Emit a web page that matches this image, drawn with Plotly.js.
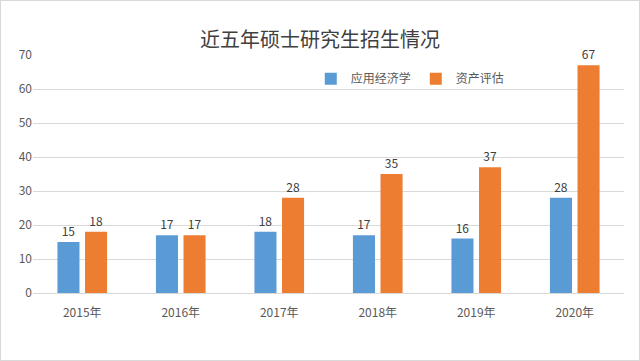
<!DOCTYPE html>
<html><head><meta charset="utf-8">
<script src="https://cdn.plot.ly/plotly-3.0.1.min.js"></script>
<style>html,body{margin:0;padding:0;background:#fff;}#chart{width:640px;height:361px;box-sizing:border-box;border:1px solid #d9d9d9;}</style>
</head><body><div id="chart"></div>
<script>
const years = ["2015年","2016年","2017年","2018年","2019年","2020年"];
const appliedEcon = [15,17,18,17,16,28];
const assetEval = [18,17,28,35,37,67];
const seriesNames = ["应用经济学","资产评估"];
const yTicks = [0,10,20,30,40,50,60,70];

const font = "'Microsoft YaHei','Noto Sans CJK SC',sans-serif";
const traces = [
  {type:"bar", x:years, y:appliedEcon, name:seriesNames[0], marker:{color:"#5b9bd5"},
   text:appliedEcon.map(String), textposition:"outside", textfont:{color:"#404040",size:12}, cliponaxis:false},
  {type:"bar", x:years, y:assetEval, name:seriesNames[1], marker:{color:"#ed7d31"},
   text:assetEval.map(String), textposition:"outside", textfont:{color:"#404040",size:12}, cliponaxis:false}
];
const layout = {
  width:638, height:359,
  margin:{l:32, r:15, t:54, b:67},
  paper_bgcolor:"#fff", plot_bgcolor:"#fff",
  font:{family:font, color:"#595959", size:12},
  title:{text:"近五年硕士研究生招生情况", font:{size:20, color:"#404040", family:font}, x:0.5, xanchor:"center", y:0.89, yanchor:"middle"},
  barmode:"group", bargap:0.44, bargroupgap:0.2,
  xaxis:{type:"category", tickfont:{size:12,color:"#595959"}, showline:true, linecolor:"#d9d9d9", ticks:"", showgrid:false, ticklabelstandoff:9},
  yaxis:{range:[0,70], tickvals:yTicks, tickfont:{size:12,color:"#595959"}, gridcolor:"#d9d9d9", showline:false, zeroline:false, ticks:"", ticklen:0},
  legend:{orientation:"h", x:0.47, y:0.9, xanchor:"left", yanchor:"middle", font:{size:12,color:"#595959"}, bgcolor:"rgba(0,0,0,0)", itemwidth:30},
  showlegend:true
};
Plotly.newPlot("chart", traces, layout, {displayModeBar:false, staticPlot:true});
</script></body></html>
